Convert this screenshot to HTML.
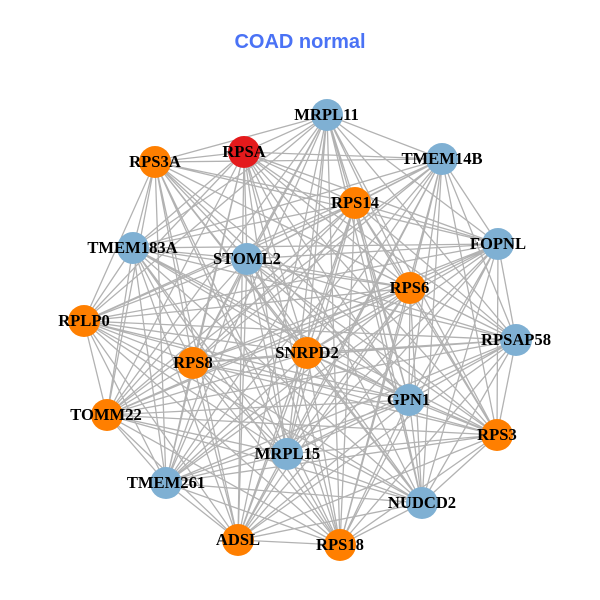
<!DOCTYPE html>
<html><head><meta charset="utf-8"><title>COAD normal</title>
<style>html,body{margin:0;padding:0;background:#fff}svg{display:block}
.n text{font:bold 16.6px "Liberation Serif",serif;text-anchor:middle;fill:#000}</style></head>
<body>
<svg width="600" height="600" viewBox="0 0 600 600" xmlns="http://www.w3.org/2000/svg">
<rect width="600" height="600" fill="#fff"/>
<text x="300" y="48" text-anchor="middle" font-family="Liberation Sans" font-weight="bold" font-size="20" fill="#4a72f5">COAD normal</text>
<g fill="none" stroke="#b2b2b2" stroke-width="1.3">
<path d="M327 115L244 152M327 115L155 162M327 115L442 159M327 115L355 203M327 115L133 248M327 115L247 259M327 115L498 244M327 115L410 288M327 115L84 321M327 115L516 340M327 115L307 353M327 115L193 363M327 115L409 400M327 115L107 415M327 115L497 435M327 115L287 454M327 115L166 483M327 115L422 503M327 115L238 540M327 115L340 545"/>
<path d="M244 152L155 162M244 152L442 159M244 152L355 203M244 152L133 248M244 152L247 259M244 152L498 244M244 152L410 288M244 152L84 321M244 152L516 340M244 152L307 353M244 152L193 363M244 152L409 400M244 152L107 415M244 152L497 435M244 152L287 454M244 152L166 483M244 152L422 503M244 152L238 540M244 152L340 545"/>
<path d="M155 162L442 159M155 162L355 203M155 162L133 248M155 162L247 259M155 162L498 244M155 162L410 288M155 162L84 321M155 162L516 340M155 162L307 353M155 162L193 363M155 162L409 400M155 162L107 415M155 162L497 435M155 162L287 454M155 162L166 483M155 162L422 503M155 162L238 540M155 162L340 545"/>
<path d="M442 159L355 203M442 159L133 248M442 159L247 259M442 159L498 244M442 159L410 288M442 159L84 321M442 159L516 340M442 159L307 353M442 159L193 363M442 159L409 400M442 159L107 415M442 159L497 435M442 159L287 454M442 159L166 483M442 159L422 503M442 159L238 540M442 159L340 545"/>
<path d="M355 203L133 248M355 203L247 259M355 203L498 244M355 203L410 288M355 203L84 321M355 203L516 340M355 203L307 353M355 203L193 363M355 203L409 400M355 203L107 415M355 203L497 435M355 203L287 454M355 203L166 483M355 203L422 503M355 203L238 540M355 203L340 545"/>
<path d="M133 248L247 259M133 248L498 244M133 248L410 288M133 248L84 321M133 248L516 340M133 248L307 353M133 248L193 363M133 248L409 400M133 248L107 415M133 248L497 435M133 248L287 454M133 248L166 483M133 248L422 503M133 248L238 540M133 248L340 545"/>
<path d="M247 259L498 244M247 259L410 288M247 259L84 321M247 259L516 340M247 259L307 353M247 259L193 363M247 259L409 400M247 259L107 415M247 259L497 435M247 259L287 454M247 259L166 483M247 259L422 503M247 259L238 540M247 259L340 545"/>
<path d="M498 244L410 288M498 244L84 321M498 244L516 340M498 244L307 353M498 244L193 363M498 244L409 400M498 244L107 415M498 244L497 435M498 244L287 454M498 244L166 483M498 244L422 503M498 244L238 540M498 244L340 545"/>
<path d="M410 288L84 321M410 288L516 340M410 288L307 353M410 288L193 363M410 288L409 400M410 288L107 415M410 288L497 435M410 288L287 454M410 288L166 483M410 288L422 503M410 288L238 540M410 288L340 545"/>
<path d="M84 321L516 340M84 321L307 353M84 321L193 363M84 321L409 400M84 321L107 415M84 321L497 435M84 321L287 454M84 321L166 483M84 321L422 503M84 321L238 540M84 321L340 545"/>
<path d="M516 340L307 353M516 340L193 363M516 340L409 400M516 340L107 415M516 340L497 435M516 340L287 454M516 340L166 483M516 340L422 503M516 340L238 540M516 340L340 545"/>
<path d="M307 353L193 363M307 353L409 400M307 353L107 415M307 353L497 435M307 353L287 454M307 353L166 483M307 353L422 503M307 353L238 540M307 353L340 545"/>
<path d="M193 363L409 400M193 363L107 415M193 363L497 435M193 363L287 454M193 363L166 483M193 363L422 503M193 363L238 540M193 363L340 545"/>
<path d="M409 400L107 415M409 400L497 435M409 400L287 454M409 400L166 483M409 400L422 503M409 400L238 540M409 400L340 545"/>
<path d="M107 415L497 435M107 415L287 454M107 415L166 483M107 415L422 503M107 415L238 540M107 415L340 545"/>
<path d="M497 435L287 454M497 435L166 483M497 435L422 503M497 435L238 540M497 435L340 545"/>
<path d="M287 454L166 483M287 454L422 503M287 454L238 540M287 454L340 545"/>
<path d="M166 483L422 503M166 483L238 540M166 483L340 545"/>
<path d="M422 503L238 540M422 503L340 545"/>
<path d="M238 540L340 545"/>
</g>
<g>
<g fill="#7fb0d3">
<circle cx="327" cy="115" r="16"/><circle cx="442" cy="159" r="16"/><circle cx="133" cy="248" r="16"/><circle cx="247" cy="259" r="16"/><circle cx="498" cy="244" r="16"/><circle cx="516" cy="340" r="16"/><circle cx="409" cy="400" r="16"/><circle cx="287" cy="454" r="16"/><circle cx="166" cy="483" r="16"/><circle cx="422" cy="503" r="16"/>
</g>
<g fill="#ff7f00">
<circle cx="155" cy="162" r="16"/><circle cx="355" cy="203" r="16"/><circle cx="410" cy="288" r="16"/><circle cx="84" cy="321" r="16"/><circle cx="307" cy="353" r="16"/><circle cx="193" cy="363" r="16"/><circle cx="107" cy="415" r="16"/><circle cx="497" cy="435" r="16"/><circle cx="238" cy="540" r="16"/><circle cx="340" cy="545" r="16"/>
</g>
<circle cx="244" cy="152" r="16" fill="#e41a1c"/>
</g>
<g class="n">
<text x="326.5" y="120">MRPL11</text>
<text x="244" y="157">RPSA</text>
<text x="155" y="167">RPS3A</text>
<text x="442" y="164">TMEM14B</text>
<text x="355" y="208">RPS14</text>
<text x="132.5" y="253">TMEM183A</text>
<text x="247" y="264">STOML2</text>
<text x="498" y="249">FOPNL</text>
<text x="409.5" y="293">RPS6</text>
<text x="84" y="326">RPLP0</text>
<text x="516" y="345">RPSAP58</text>
<text x="307" y="358">SNRPD2</text>
<text x="193" y="368">RPS8</text>
<text x="408.5" y="405">GPN1</text>
<text x="106" y="420">TOMM22</text>
<text x="497" y="440">RPS3</text>
<text x="287.5" y="459">MRPL15</text>
<text x="166" y="488">TMEM261</text>
<text x="422" y="508">NUDCD2</text>
<text x="238" y="545">ADSL</text>
<text x="340" y="550">RPS18</text>
</g>
</svg>
</body></html>
